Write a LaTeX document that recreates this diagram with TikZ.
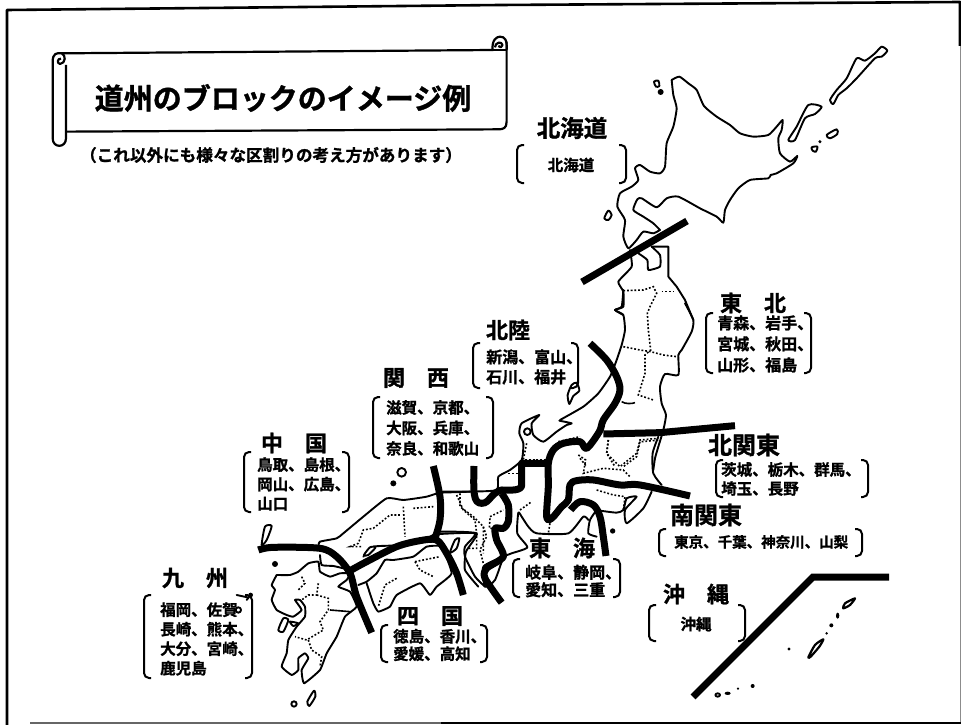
\documentclass[tikz,border=0pt]{standalone}
\usepackage{fontspec}
\newfontfamily\cjk[FakeBold=1.2]{Noto Sans CJK JP Bold}
\newcommand{\fsz}[2]{\fontsize{#1}{#2}\selectfont}
\tikzset{
  zm/.style 2 args={shift={(#1,#2)},x=.3333pt,y=-.3333pt},
  coast/.style={line width=1.9pt,line join=round,line cap=round},
  pref/.style={line width=1.6pt,dash pattern=on 1.8pt off 1.9pt},
  bline/.style={line width=7pt,line join=round},
  brk/.style={line width=2pt,rounded corners=5pt},
  hdr/.style={inner sep=0pt,font=\cjk\fsz{22}{26}},
  body/.style={inner sep=0pt,anchor=west,align=left,font=\cjk\fsz{15.5}{20.5}},
  isle/.style={coast,fill=white},
  blob/.style={fill=black}
}
\newcommand{\brackets}[4]{%
  \draw[brk] (#1+7,#3)--(#1,#3)--(#1,#4)--(#1+7,#4);
  \draw[brk] (#2-7,#3)--(#2,#3)--(#2,#4)--(#2-7,#4);}
\begin{document}
\begin{tikzpicture}[x=1pt,y=-1pt]
\path[use as bounding box,fill=white] (0,0) rectangle (961,725);
% frame
\draw[line width=2.6pt,line join=round] (7,725)--(7,10)--(500,5)--(960,2)--(960,46);
\draw[line width=1pt,black!45] (960,46)--(960,723);
\draw[line width=1.6pt,black!60] (30,723)--(441,723);
\draw[line width=2.6pt] (441,723)--(961,723);
% scroll banner
\begin{scope}[zm={0}{0},line width=2.2pt,line join=round]
\draw (185,160)--(1480,150);
\draw (1520,125)--(1520,365) .. controls (1520,385) and (1510,388) .. (1495,388)--(198,395);
\draw (198,195) -- (198,415) .. controls (198,445) and (158,445) .. (158,415)--(158,185) .. controls (158,160) and (170,158) .. (185,160) .. controls (198,165) and (198,190) .. (180,192) .. controls (170,190) and (172,175) .. (183,176);
\draw (1478,150)--(1520,150);
\draw (1478,150) .. controls (1475,120) and (1490,110) .. (1500,110) .. controls (1515,110) and (1522,120) .. (1520,150);
\draw (1485,142) .. controls (1485,128) and (1505,122) .. (1508,135) .. controls (1508,142) and (1498,145) .. (1495,138);
\end{scope}
\node[inner sep=0pt,font=\cjk\fsz{29}{32}] (title) at (283,98) {道州のブロックのイメージ例};
\node[inner sep=0pt,font=\cjk\fsz{16.6}{20}] (sub) at (271,155) {（これ以外にも様々な区割りの考え方があります）};
% Hokkaido, Aomori, Kurils
\begin{scope}[zm={560}{20}]
\draw[coast] plot[smooth,tension=.35] coordinates {(335,180)(358,170)(385,190)(410,210)(432,258)(470,290)(510,315)(540,340)(580,350)(625,345)(650,320)(668,300)(665,330)(655,355)(660,400)(690,425)(712,408)(700,430)(650,460)(632,465)(625,475)(570,480)(535,505)(510,540)(495,570)(490,608)(470,590)(420,565)(355,530)(320,535)(290,562)(245,535)(232,538)(220,570)(250,590)(280,610)(300,630)};
\draw[coast] plot[smooth,tension=.35] coordinates {(335,180)(340,225)(350,265)(340,320)(320,370)(315,440)(300,460)(270,455)(240,435)(225,445)(235,480)(215,500)(180,520)(172,560)(195,600)(190,650)(205,685)(230,660)(250,635)(280,640)(300,630)};
\draw[coast] plot[smooth,tension=.3] coordinates {(235,700)(262,720)(265,750)(300,740)(300,705)(275,680)};
\draw[coast] (275,680)--(325,680)--(325,770)--(350,800)--(375,840)--(400,900);
\draw[coast] plot[smooth,tension=.3] coordinates {(210,690)(215,740)(175,785)(190,815)(190,860)(165,870)(190,885)};
\draw[isle] plot[smooth cycle,tension=.4] coordinates {(965,80)(982,92)(965,110)(945,115)(890,175)(860,205)(835,225)(820,252)(810,240)(830,210)(860,175)(890,115)(915,122)(945,100)};
\draw[isle] plot[smooth cycle,tension=.4] coordinates {(745,255)(785,260)(765,282)(735,295)(705,360)(685,360)(710,320)};
\draw[isle] plot[smooth cycle,tension=.5] coordinates {(800,345)(830,328)(832,342)(810,355)};
\draw[isle] plot[smooth cycle,tension=.5] coordinates {(755,382)(772,380)(768,395)(758,392)};
\fill (780,365) circle (5);
\draw[isle] plot[smooth cycle,tension=.5] coordinates {(282,185)(295,182)(298,198)(288,200)};
\fill (302,216) circle (9);
\draw[isle] plot[smooth cycle,tension=.5] coordinates {(145,572)(155,585)(145,600)(133,595)};
\end{scope}
% Tohoku
\begin{scope}[zm={560}{270}]
\draw[coast] plot[smooth,tension=.35] coordinates {(375,100)(400,150)(395,185)(365,240)(355,255)(355,315)(315,312)(300,350)(305,400)(318,435)(310,480)(295,530)(285,565)(280,600)};
\draw[coast] plot[smooth,tension=.3] coordinates {(190,60)(185,110)(165,120)(190,135)(195,180)(185,225)(170,270)(150,320)(115,370)(70,410)(0,450)};
\draw[pref] (190,62)--(250,60)--(280,50)--(290,70)--(270,110)--(262,130)--(265,180)--(272,240)--(255,255)--(255,310)--(235,375)--(280,390);
\draw[pref] (305,65)--(340,65);
\draw[pref] (190,230)--(240,240)--(272,245)--(310,255)--(350,260);
\draw[line width=1.6pt] (185,395) .. controls (195,402) and (215,402) .. (225,398);
\draw[pref] (145,510)--(140,550)--(165,590);
\draw[pref] (240,515)--(230,560)--(190,590);
\draw[pref] (245,515)--(300,510);
\draw[pref] (60,565)--(80,590);
\end{scope}
% Central Honshu
\begin{scope}[zm={440}{320}]
\draw[coast] plot[smooth,tension=.35] coordinates {(358,302)(395,310)(380,315)(350,335)(310,365)(280,345)(275,310)(298,285)(245,310)(238,340)(250,370)(245,420)(210,450)(175,470)(170,510)(90,515)(0,518)};
\draw[coast] plot[smooth,tension=.4] coordinates {(655,350)(638,400)(640,460)(665,495)};
\draw[coast] plot[smooth,tension=.35] coordinates {(635,515)(610,565)(560,610)(555,570)(590,530)(560,535)(550,570)(530,578)(480,572)};
\draw[coast] plot[smooth,tension=.35] coordinates {(470,570)(450,600)(445,640)(470,650)};
\draw[coast] plot[smooth,tension=.35] coordinates {(445,600)(430,590)(385,640)(290,640)(265,620)(245,590)(235,578)(232,640)(262,682)(215,700)(185,712)(130,740)(135,800)(165,780)(190,710)};
\draw[coast] plot[smooth,tension=.35] coordinates {(135,800)(105,770)(75,710)(75,680)(105,640)(0,642)};
\draw[isle] plot[smooth cycle,tension=.4] coordinates {(395,195)(410,188)(418,212)(400,228)(388,252)(383,225)};
\draw[isle] (262,335) circle (10);
\fill (518,633) circle (8);
\draw[pref] (505,360)--(500,400)--(540,440)--(590,400)--(600,360)--(655,355);
\draw[pref] (415,405)--(437,420)--(430,460)--(490,445)--(550,450)--(570,470);
\draw[pref] (355,365)--(420,350);
\draw[pref] (260,370)--(250,420);
\draw[pref] (205,460)--(245,460);
\draw[pref] (245,420)--(320,420);
\draw[pref] (470,510)--(520,525)--(555,530)--(550,570);
\draw[pref] (240,570)--(275,545);
\draw[pref] (330,610)--(325,640);
\draw[pref] (150,590)--(190,570);
\draw[pref] (60,520)--(60,560)--(100,590)--(130,620)--(130,700);
\draw[pref] (150,595)--(148,625)--(168,625);
\end{scope}
% West Japan
\begin{scope}[zm={230}{440}]
\draw[coast] plot[smooth,tension=.3] coordinates {(720,155)(640,155)(590,170)(520,180)(470,175)(400,230)(340,280)(320,295)(270,305)(265,320)};
\draw[coast] plot[smooth,tension=.3] coordinates {(270,345)(275,375)(310,378)(340,385)};
\draw[coast] plot[smooth,tension=.3] coordinates {(400,350)(430,320)(510,315)(600,290)(630,275)(740,280)(708,335)(705,390)(745,440)};
% Shikoku
\draw[coast] plot[smooth,tension=.25] coordinates {(385,435)(410,425)(440,400)(465,360)(490,360)(550,350)(590,320)(635,320)(665,400)(620,440)(600,465)(570,430)(500,465)(480,500)(445,515)(430,490)(410,430)};
% Kyushu
\draw[coast] plot[smooth,tension=.25] coordinates {(140,405)(180,405)(205,395)(235,370)(265,365)(270,395)(300,410)(330,400)(360,400)(350,420)(325,440)(360,455)(380,500)(345,530)(320,590)(290,640)(270,690)(222,730)(215,690)(235,655)(225,640)(205,655)(205,690)(185,705)(155,680)(170,640)(175,600)(200,560)(225,530)(225,500)(210,480)(195,480)(215,510)(190,530)(170,525)(140,510)(125,480)(135,450)(125,435)(140,405)};
\draw[isle] plot[smooth cycle,tension=.4] coordinates {(160,535)(175,540)(160,575)(145,570)};
\draw[isle] plot[smooth cycle,tension=.4] coordinates {(180,545)(205,550)(190,558)};
\draw[isle] plot[smooth cycle,tension=.4] coordinates {(105,260)(125,258)(110,300)(95,315)};
\fill (135,372) circle (9);
\draw[isle] (515,97) circle (13);
\fill (490,130) circle (9);
\draw[isle] plot[smooth cycle,tension=.4] coordinates {(675,300)(688,295)(680,325)(660,338)};
\draw[isle] plot[smooth cycle,tension=.4] coordinates {(420,322)(437,322)(415,345)(402,345)};
\draw[isle] plot[smooth cycle,tension=.4] coordinates {(252,752)(256,770)(238,798)(232,785)};
\draw[isle] (192,792) circle (8);
\draw[isle] (25,510) circle (8);
\draw[coast] (62,465)--(50,480);\fill (62,465) circle (7);
\draw[coast] (20,465)--(52,472);
\draw[pref] (520,200)--(525,290);
\draw[pref] (550,205)--(610,200);
\draw[pref] (510,225)--(480,225)--(430,265)--(400,270)--(385,310)--(360,320)--(395,320);
\draw[pref] (555,365)--(630,350);
\draw[pref] (555,365)--(570,390)--(610,410);
\draw[pref] (500,415)--(465,435)--(445,500);
\draw[pref] (215,410)--(225,430)--(205,450);
\draw[pref] (265,430)--(260,465)--(235,465)--(215,480);
\draw[pref] (260,465)--(295,475)--(295,510)--(270,545)--(280,570)--(230,600)--(195,590);
\draw[line width=1.6pt] (300,510)--(360,515);
\draw[pref] (235,600)--(245,630)--(275,650)--(270,680);
\draw[pref] (680,165)--(700,210)--(735,240)--(740,280)--(740,325)--(715,325);
\draw[pref] (760,260)--(770,290)--(750,330)--(760,370);
% thick lines
\draw[bline] plot[smooth,tension=.55] coordinates {(610,78)(630,170)(630,240)(615,295)};
\draw[bline] plot[smooth,tension=.5] coordinates {(85,330)(130,322)(270,325)(320,350)(360,400)(380,470)(425,578)};
\draw[bline] plot[smooth,tension=.5] coordinates {(355,395)(410,365)(500,320)(570,302)(620,300)(650,340)(680,400)(700,465)};
\end{scope}
% thick boundaries
\begin{scope}[zm={440}{320}]
\draw[bline] plot[smooth,tension=.55] coordinates {(450,70)(500,120)(530,170)(540,210)(525,250)(490,300)(478,335)(440,385)(420,365)(370,370)(340,390)(325,430)(325,500)(320,590)(335,595)(365,560)(385,540)(390,495)(410,482)(460,480)(540,495)(600,495)(750,528)};
\draw[bline] (490,342)--(660,338)--(885,317);
\draw[bline,line join=round] (325,430)--(245,430)--(245,490) .. controls (250,515) and (210,510) .. (185,510) .. controls (150,520) and (150,550) .. (125,550) .. controls (100,550) and (100,520) .. (102,438);
\draw[bline] plot[smooth,tension=.45] coordinates {(185,520)(205,555)(205,605)(190,625)(165,625)(170,660)(190,710)(140,745)(135,775)(185,848)};
\draw[bline] plot[smooth,tension=.55] coordinates {(392,570)(420,545)(460,555)(480,590)(490,650)(498,708)};
\end{scope}
\draw[bline] (582,282)--(687,221);
\draw[bline,line cap=butt,miter limit=10,line join=miter] (693,697)--(813,577)--(889,577);
% Okinawa islands
\begin{scope}[zm={660}{550}]
\draw[coast,line width=2.2pt] plot[smooth cycle,tension=.4] coordinates {(445,322)(465,285)(490,268)(478,290)(452,320)};
\draw[coast,line width=2.2pt] plot[smooth cycle,tension=.4] coordinates {(550,175)(555,160)(585,145)(570,165)};
\fill (533,197) ellipse (5 and 9);
\fill (514,226) circle (6);
\fill (500,250) circle (4);
\fill (387,297) circle (5);
\fill (278,408) circle (6);
\fill (234,416) circle (3.5);
\fill (203,430) ellipse (9 and 5);
\draw[coast] (173,435) ellipse (7 and 5);
\end{scope}
% labels
\node[hdr,font=\cjk\fsz{23.5}{26}] (hhdr) at (572,128) {北海道};
\node[body,anchor=center] (hbody) at (571,165) {北海道};
\brackets{517}{626}{145}{183}
\node[hdr] (thdr) at (753,303) {東　北};
\node[body,font=\cjk\fsz{16}{21}] (tbody) at (717,344) {青森、岩手、\\宮城、秋田、\\山形、福島};
\brackets{706}{811}{313}{373}
\node[hdr] (rhdr) at (508,330) {北陸};
\node[body,font=\cjk\fsz{16}{20}] (rbody) at (486,367) {新潟、富山、\\石川、福井};
\brackets{473}{578}{343}{388}
\node[hdr] (khdr) at (416,378) {関　西};
\node[body] (kbody) at (386,428) {滋賀、京都、\\大阪、兵庫、\\奈良、和歌山};
\brackets{373}{493}{397}{458}
\node[hdr] (chdr) at (294,443) {中　国};
\node[body,font=\cjk\fsz{15.5}{19.5}] (cbody) at (257,484) {鳥取、島根、\\岡山、広島、\\山口};
\brackets{244}{349}{452}{512}
\node[hdr] (qhdr) at (195,578) {九　州};
\node[body,font=\cjk\fsz{15.5}{19.5}] (qbody) at (160,639) {福岡、佐賀\\長崎、熊本、\\大分、宮崎、\\鹿児島};
\brackets{144}{252}{595}{678}
\node[hdr] (shdr) at (430,616) {四　国};
\node[body,font=\cjk\fsz{15.5}{17.5}] (sbody) at (393,645) {徳島、香川、\\愛媛、高知};
\brackets{381}{487}{625}{662}
\node[hdr] (ehdr) at (562,548) {東　海};
\node[body,font=\cjk\fsz{16}{17.5}] (ebody) at (525,581) {岐阜、静岡、\\愛知、三重};
\brackets{513}{620}{559}{597}
\node[hdr,font=\cjk\fsz{24}{26}] (mhdr) at (706,515) {南関東};
\node[body,font=\cjk\fsz{14.5}{18}] (mbody) at (674,542) {東京、千葉、神奈川、山梨};
\brackets{659}{862}{529}{556}
\node[hdr,font=\cjk\fsz{24}{26}] (nhdr) at (744,445) {北関東};
\node[body,font=\cjk\fsz{15.5}{19}] (nbody) at (721,479) {茨城、栃木、群馬、\\埼玉、長野};
\brackets{716}{868}{460}{497}
\node[hdr] (ohdr) at (696,594) {沖　縄};
\node[body,anchor=center] (obody) at (696,624) {沖縄};
\brackets{649}{745}{605}{641}
\end{tikzpicture}
\end{document}
